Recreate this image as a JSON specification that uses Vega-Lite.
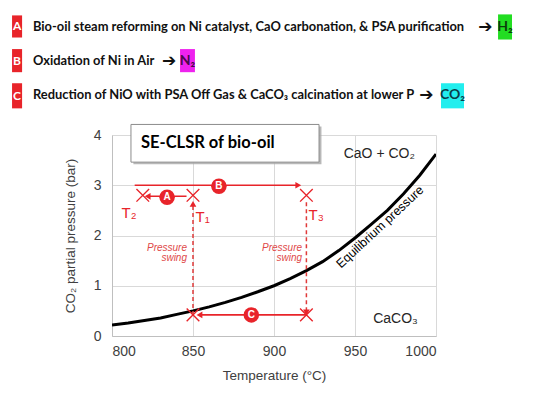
{
  "$schema": "https://vega.github.io/schema/vega-lite/v6.json",
  "width": 324,
  "height": 201,
  "autosize": {"type": "none"},
  "padding": {"left": 112, "top": 135, "right": 114, "bottom": 61},
  "background": "white",
  "config": {
    "view": {"stroke": null},
    "axis": {
      "grid": true, "gridColor": "#d9d9d9", "gridWidth": 1,
      "domainColor": "#bfbfbf", "ticks": false,
      "labelFont": "Liberation Sans", "labelFontSize": 14, "labelColor": "#404040",
      "titleFont": "Liberation Sans", "titleFontSize": 13.5, "titleFontWeight": "normal", "titleColor": "#404040"
    }
  },
  "datasets": {
    "curve": [
      {"T": 800, "P": 0.22}, {"T": 810, "P": 0.26}, {"T": 820, "P": 0.31}, {"T": 830, "P": 0.36},
      {"T": 840, "P": 0.43}, {"T": 850, "P": 0.5}, {"T": 860, "P": 0.58}, {"T": 870, "P": 0.67},
      {"T": 880, "P": 0.77}, {"T": 890, "P": 0.88}, {"T": 900, "P": 1.0}, {"T": 910, "P": 1.14},
      {"T": 920, "P": 1.3}, {"T": 930, "P": 1.48}, {"T": 940, "P": 1.7}, {"T": 950, "P": 1.95},
      {"T": 960, "P": 2.22}, {"T": 970, "P": 2.5}, {"T": 980, "P": 2.83}, {"T": 990, "P": 3.2},
      {"T": 1000, "P": 3.62}
    ],
    "solid": [
      {"T": 814, "T2": 914, "P": 3.0, "P2": 3.0},
      {"T": 846, "T2": 823, "P": 2.78, "P2": 2.78},
      {"T": 920, "T2": 855, "P": 0.42, "P2": 0.42}
    ],
    "dashed": [
      {"T": 850, "T2": 850, "P": 0.42, "P2": 2.6},
      {"T": 920, "T2": 920, "P": 2.66, "P2": 0.48}
    ],
    "heads": [
      {"T": 915, "P": 3.0, "shape": "triangle-right"},
      {"T": 822, "P": 2.78, "shape": "triangle-left"},
      {"T": 854, "P": 0.42, "shape": "triangle-left"},
      {"T": 850, "P": 2.63, "shape": "triangle-up"},
      {"T": 920, "P": 0.47, "shape": "triangle-down"}
    ],
    "crosses": [
      {"T": 819, "P": 2.8}, {"T": 850, "P": 2.8}, {"T": 920, "P": 2.8},
      {"T": 850, "P": 0.42}, {"T": 920, "P": 0.42}
    ],
    "circles": [
      {"T": 834, "P": 2.76, "label": "A"},
      {"T": 866, "P": 2.98, "label": "B"},
      {"T": 886, "P": 0.42, "label": "C"}
    ],
    "tlabels": [
      {"T": 810.5, "P": 2.45, "label": "T₂"},
      {"T": 856, "P": 2.37, "label": "T₁"},
      {"T": 926, "P": 2.4, "label": "T₃"}
    ],
    "swing": [
      {"T": 846.3, "P": 1.75, "label": "Pressure"},
      {"T": 846.3, "P": 1.55, "label": "swing"},
      {"T": 917.3, "P": 1.75, "label": "Pressure"},
      {"T": 917.3, "P": 1.55, "label": "swing"}
    ],
    "box": [
      {"T": 811.7, "T2": 927.8, "P": 4.21, "P2": 3.46}
    ],
    "shadow": [
      {"T": 813.2, "T2": 929.3, "P": 4.17, "P2": 3.42}
    ],
    "headrects": [
      {"T": 738.3, "T2": 744.5, "P": 6.38, "P2": 5.94, "c": "#e8242a"},
      {"T": 738.3, "T2": 744.5, "P": 5.71, "P2": 5.25, "c": "#e8242a"},
      {"T": 738.3, "T2": 744.5, "P": 5.03, "P2": 4.53, "c": "#e8242a"},
      {"T": 1038.3, "T2": 1046.9, "P": 6.40, "P2": 5.90, "c": "#22dd22"},
      {"T": 842.0, "T2": 851.2, "P": 5.71, "P2": 5.25, "c": "#ee22ee"},
      {"T": 1003.1, "T2": 1017.3, "P": 5.03, "P2": 4.53, "c": "#22eeee"}
    ],
    "headletters": [
      {"T": 741.4, "P": 6.16, "label": "A"},
      {"T": 741.4, "P": 5.48, "label": "B"},
      {"T": 741.4, "P": 4.78, "label": "C"}
    ],
    "headtext": [
      {"T": 751.2, "P": 6.15, "label": "Bio-oil steam reforming on Ni catalyst, CaO carbonation, & PSA purification"},
      {"T": 751.2, "P": 5.47, "label": "Oxidation of Ni in Air"},
      {"T": 751.2, "P": 4.79, "label": "Reduction of NiO with PSA Off Gas & CaCO₃ calcination at lower P"}
    ],
    "headarrows": [
      {"T": 1030.5, "P": 6.15},
      {"T": 835.2, "P": 5.47},
      {"T": 994.1, "P": 4.79}
    ],
    "gases": [
      {"T": 1042.6, "P": 6.15, "label": "H₂", "c": "#0b3d0b"},
      {"T": 846.6, "P": 5.47, "label": "N₂", "c": "#4a0a4a"},
      {"T": 1010.2, "P": 4.79, "label": "CO₂", "c": "#0b3d4a"}
    ],
    "regions": [
      {"T": 965, "P": 3.62, "label": "CaO + CO₂"},
      {"T": 975, "P": 0.33, "label": "CaCO₃"}
    ]
  },
  "layer": [
    {
      "data": {"name": "curve"},
      "mark": {"type": "line", "color": "black", "strokeWidth": 3, "clip": true},
      "encoding": {
        "x": {"field": "T", "type": "quantitative", "scale": {"domain": [800, 1000], "nice": false},
              "axis": {"values": [800, 850, 900, 950, 1000], "format": "d", "title": "Temperature (°C)", "labelPadding": 8, "titlePadding": 10}},
        "y": {"field": "P", "type": "quantitative", "scale": {"domain": [0, 4], "nice": false, "zero": false},
              "axis": {"values": [0, 1, 2, 3, 4], "format": "d", "title": "CO₂ partial pressure (bar)", "labelPadding": 11, "titlePadding": 16}}
      }
    },
    {
      "data": {"name": "solid"},
      "mark": {"type": "rule", "color": "#e8242a", "strokeWidth": 1.6},
      "encoding": {
        "x": {"field": "T", "type": "quantitative"}, "x2": {"field": "T2"},
        "y": {"field": "P", "type": "quantitative"}, "y2": {"field": "P2"}
      }
    },
    {
      "data": {"name": "dashed"},
      "mark": {"type": "rule", "color": "#e03a3a", "strokeWidth": 1.5, "strokeDash": [4, 3]},
      "encoding": {
        "x": {"field": "T", "type": "quantitative"}, "x2": {"field": "T2"},
        "y": {"field": "P", "type": "quantitative"}, "y2": {"field": "P2"}
      }
    },
    {
      "data": {"name": "heads"},
      "mark": {"type": "point", "filled": true, "color": "#e8242a", "size": 45, "opacity": 1},
      "encoding": {
        "x": {"field": "T", "type": "quantitative"},
        "y": {"field": "P", "type": "quantitative"},
        "shape": {"field": "shape", "type": "nominal", "scale": null}
      }
    },
    {
      "data": {"name": "crosses"},
      "mark": {"type": "point", "shape": "M-1,-1L1,1M-1,1L1,-1", "filled": false, "color": "#e8242a", "strokeWidth": 1.4, "size": 160, "opacity": 1},
      "encoding": {
        "x": {"field": "T", "type": "quantitative"},
        "y": {"field": "P", "type": "quantitative"}
      }
    },
    {
      "data": {"name": "circles"},
      "mark": {"type": "circle", "color": "#e8242a", "size": 240, "opacity": 1},
      "encoding": {
        "x": {"field": "T", "type": "quantitative"},
        "y": {"field": "P", "type": "quantitative"}
      }
    },
    {
      "data": {"name": "circles"},
      "mark": {"type": "text", "color": "white", "font": "Liberation Sans", "fontWeight": "bold", "fontSize": 10, "baseline": "middle", "align": "center"},
      "encoding": {
        "x": {"field": "T", "type": "quantitative"},
        "y": {"field": "P", "type": "quantitative"},
        "text": {"field": "label"}
      }
    },
    {
      "data": {"name": "tlabels"},
      "mark": {"type": "text", "color": "#e8242a", "font": "Liberation Sans", "fontSize": 15, "baseline": "middle", "align": "center"},
      "encoding": {
        "x": {"field": "T", "type": "quantitative"},
        "y": {"field": "P", "type": "quantitative"},
        "text": {"field": "label"}
      }
    },
    {
      "data": {"name": "swing"},
      "mark": {"type": "text", "color": "#e04848", "font": "Liberation Sans", "fontStyle": "italic", "fontSize": 10, "baseline": "middle", "align": "right"},
      "encoding": {
        "x": {"field": "T", "type": "quantitative"},
        "y": {"field": "P", "type": "quantitative"},
        "text": {"field": "label"}
      }
    },
    {
      "data": {"name": "shadow"},
      "mark": {"type": "rect", "fill": "#a6a6a6", "opacity": 0.8},
      "encoding": {
        "x": {"field": "T", "type": "quantitative"}, "x2": {"field": "T2"},
        "y": {"field": "P", "type": "quantitative"}, "y2": {"field": "P2"}
      }
    },
    {
      "data": {"name": "box"},
      "mark": {"type": "rect", "fill": "white", "stroke": "#8c8c8c", "strokeWidth": 1},
      "encoding": {
        "x": {"field": "T", "type": "quantitative"}, "x2": {"field": "T2"},
        "y": {"field": "P", "type": "quantitative"}, "y2": {"field": "P2"}
      }
    },
    {
      "data": {"values": [{"T": 817.9, "P": 3.84, "label": "SE-CLSR of bio-oil"}]},
      "mark": {"type": "text", "color": "black", "font": "Lato", "fontWeight": "bold", "fontSize": 16.5, "baseline": "middle", "align": "left"},
      "encoding": {
        "x": {"field": "T", "type": "quantitative"},
        "y": {"field": "P", "type": "quantitative"},
        "text": {"field": "label"}
      }
    },
    {
      "data": {"name": "regions"},
      "mark": {"type": "text", "color": "#262626", "font": "Liberation Sans", "fontSize": 14, "baseline": "middle", "align": "center"},
      "encoding": {
        "x": {"field": "T", "type": "quantitative"},
        "y": {"field": "P", "type": "quantitative"},
        "text": {"field": "label"}
      }
    },
    {
      "data": {"values": [{"T": 965.4, "P": 2.17, "label": "Equilibrium pressure"}]},
      "mark": {"type": "text", "color": "black", "font": "Liberation Sans", "fontSize": 12.5, "baseline": "middle", "align": "center", "angle": 317},
      "encoding": {
        "x": {"field": "T", "type": "quantitative"},
        "y": {"field": "P", "type": "quantitative"},
        "text": {"field": "label"}
      }
    },
    {
      "data": {"name": "headrects"},
      "mark": {"type": "rect"},
      "encoding": {
        "x": {"field": "T", "type": "quantitative"}, "x2": {"field": "T2"},
        "y": {"field": "P", "type": "quantitative"}, "y2": {"field": "P2"},
        "color": {"field": "c", "type": "nominal", "scale": null}
      }
    },
    {
      "data": {"name": "headletters"},
      "mark": {"type": "text", "color": "white", "font": "Lato", "fontWeight": "bold", "fontSize": 12, "baseline": "middle", "align": "center"},
      "encoding": {
        "x": {"field": "T", "type": "quantitative"},
        "y": {"field": "P", "type": "quantitative"},
        "text": {"field": "label"}
      }
    },
    {
      "data": {"name": "headtext"},
      "mark": {"type": "text", "color": "#111111", "font": "Lato", "fontWeight": "bold", "fontSize": 12.9, "baseline": "middle", "align": "left"},
      "encoding": {
        "x": {"field": "T", "type": "quantitative"},
        "y": {"field": "P", "type": "quantitative"},
        "text": {"field": "label"}
      }
    },
    {
      "data": {"name": "headarrows"},
      "mark": {"type": "text", "color": "#111111", "font": "DejaVu Sans", "fontWeight": "bold", "fontSize": 17, "baseline": "middle", "align": "center", "text": "➔"},
      "encoding": {
        "x": {"field": "T", "type": "quantitative"},
        "y": {"field": "P", "type": "quantitative"}
      }
    },
    {
      "data": {"name": "gases"},
      "mark": {"type": "text", "font": "Lato", "fontWeight": "bold", "fontSize": 14, "baseline": "middle", "align": "center"},
      "encoding": {
        "x": {"field": "T", "type": "quantitative"},
        "y": {"field": "P", "type": "quantitative"},
        "text": {"field": "label"},
        "color": {"field": "c", "type": "nominal", "scale": null}
      }
    }
  ]
}
